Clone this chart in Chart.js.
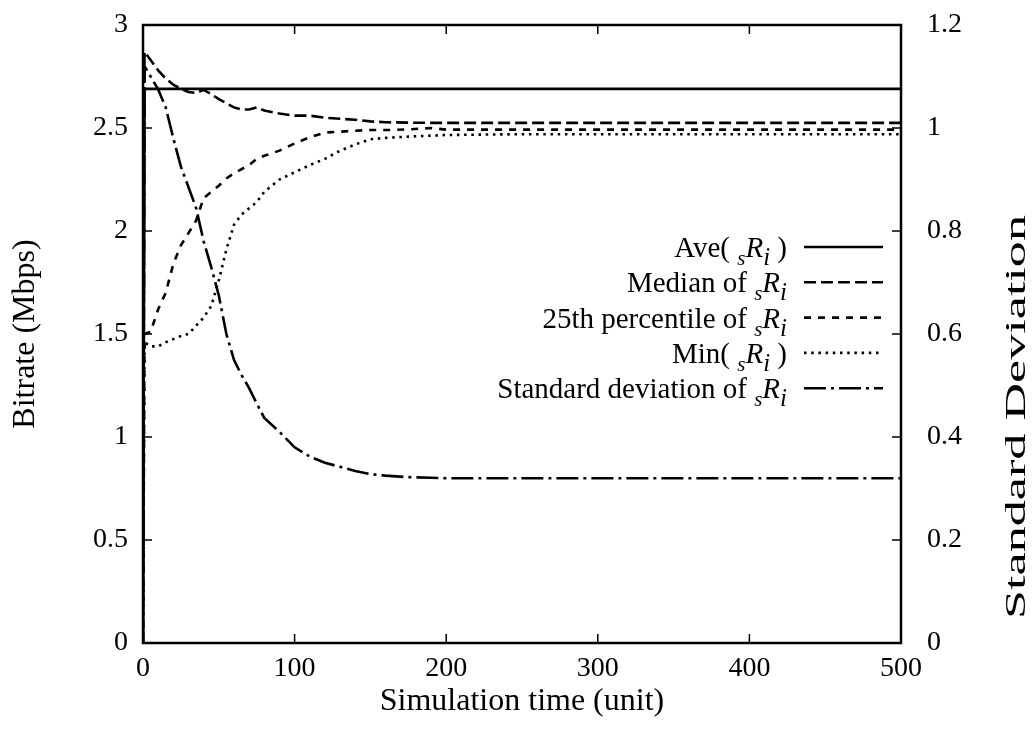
<!DOCTYPE html>
<html lang="en">
<head>
<meta charset="UTF-8">
<title>Bitrate over simulation time</title>
<script src="https://cdn.jsdelivr.net/npm/chart.js"></script>
<style>
  body { margin: 0; background: #fff; }
  #chart { display: block; }
</style>
</head>
<body>
<canvas id="chart" width="1036" height="729"></canvas>
<script>
  // simulation time (unit)
  const times = [0, 1, 5, 10, 15, 20, 25, 30, 35, 40, 45, 50, 55, 60, 65, 70, 75, 80, 90, 100,
                 110, 120, 130, 140, 150, 160, 175, 190, 200, 250, 300, 400, 500];
  // bitrate series (Mbps), left axis
  const aveRate = [0, 2.69, 2.69, 2.69, 2.69, 2.69, 2.69, 2.69, 2.69, 2.69, 2.69, 2.69, 2.69, 2.69, 2.69, 2.69, 2.69,
                   2.69, 2.69, 2.69, 2.69, 2.69, 2.69, 2.69, 2.69, 2.69, 2.69, 2.69, 2.69, 2.69, 2.69, 2.69, 2.69];
  const medianRate = [0, 2.87, 2.83, 2.78, 2.74, 2.71, 2.69, 2.675, 2.67, 2.685, 2.665, 2.64, 2.62, 2.60, 2.59, 2.59, 2.60,
                      2.585, 2.57, 2.56, 2.56, 2.55, 2.545, 2.54, 2.532, 2.528, 2.526, 2.525, 2.525, 2.525, 2.525, 2.525, 2.525];
  const p25Rate = [0, 1.50, 1.51, 1.62, 1.70, 1.84, 1.93, 1.99, 2.05, 2.16, 2.19, 2.22, 2.255, 2.28, 2.30, 2.32, 2.35,
                   2.365, 2.39, 2.425, 2.455, 2.478, 2.482, 2.487, 2.49, 2.49, 2.493, 2.50, 2.492, 2.492, 2.492, 2.492, 2.492];
  const minRate = [0, 1.46, 1.44, 1.44, 1.46, 1.475, 1.49, 1.50, 1.54, 1.58, 1.635, 1.76, 1.91, 2.03, 2.08, 2.11, 2.14,
                   2.19, 2.25, 2.285, 2.32, 2.35, 2.39, 2.42, 2.445, 2.452, 2.458, 2.463, 2.466, 2.47, 2.47, 2.47, 2.47];
  // standard deviation, right axis
  const stdDev = [0, 1.12, 1.10, 1.075, 1.04, 0.98, 0.925, 0.885, 0.845, 0.78, 0.73, 0.675, 0.60, 0.55, 0.52, 0.495, 0.465,
                  0.437, 0.41, 0.38, 0.362, 0.35, 0.342, 0.334, 0.328, 0.325, 0.322, 0.321, 0.32, 0.32, 0.32, 0.32, 0.32];

  // legend text: head + " sRi" + tail
  const labelHeads = ["Ave(", "Median of", "25th percentile of", "Min(", "Standard deviation of"];
  const labelTails = [" )", "", "", " )", ""];

  const serif = '"Liberation Serif", "Times New Roman", serif';
  const pts = vals => times.map((t, i) => ({ x: t, y: vals[i] }));
  const plainNum = v => String(Number(v.toFixed(2)));

  function line(idx, vals, dash, axis) {
    return {
      label: labelHeads[idx] + " sRi" + labelTails[idx],
      data: pts(vals),
      yAxisID: axis,
      borderColor: "#000",
      borderWidth: 2.6,
      borderDash: dash,
      pointRadius: 0,
      tension: 0,
      fill: false
    };
  }

  // fixed box sizes, no label overflow padding
  function fixBox(w, h) {
    return s => {
      if (w) s.width = w;
      if (h) s.height = h;
      s.paddingTop = 0; s.paddingBottom = 0; s.paddingLeft = 0; s.paddingRight = 0;
    };
  }

  // frame, inward ticks, legend and right axis title
  const gnuplotLook = {
    id: "gnuplotLook",
    afterDraw(chart) {
      const ctx = chart.ctx;
      const a = chart.chartArea;
      const { x, y, y2 } = chart.scales;
      ctx.save();
      ctx.strokeStyle = "#000";
      ctx.lineWidth = 1.5;
      ctx.beginPath();
      x.ticks.forEach(t => {
        const px = x.getPixelForValue(t.value);
        ctx.moveTo(px, a.bottom); ctx.lineTo(px, a.bottom - 9);
        ctx.moveTo(px, a.top); ctx.lineTo(px, a.top + 9);
      });
      y.ticks.forEach(t => {
        const py = y.getPixelForValue(t.value);
        ctx.moveTo(a.left, py); ctx.lineTo(a.left + 9, py);
      });
      y2.ticks.forEach(t => {
        const py = y2.getPixelForValue(t.value);
        ctx.moveTo(a.right, py); ctx.lineTo(a.right - 9, py);
      });
      ctx.stroke();

      ctx.lineWidth = 2.5;
      ctx.strokeRect(a.left, a.top, a.right - a.left, a.bottom - a.top);

      // legend
      const textRight = 787, lineL = 804, lineR = 883, rowTop = 247, rowStep = 35.3;
      chart.data.datasets.forEach((ds, i) => {
        const ry = rowTop + i * rowStep;
        ctx.setLineDash(ds.borderDash || []);
        ctx.lineWidth = ds.borderWidth;
        ctx.beginPath();
        ctx.moveTo(lineL, ry); ctx.lineTo(lineR, ry);
        ctx.stroke();
        ctx.setLineDash([]);

        const parts = [
          { t: labelHeads[i] + " ", f: "29px " + serif, dy: 0 },
          { t: "s", f: "italic 21px " + serif, dy: 8 },
          { t: "R", f: "italic 29px " + serif, dy: 0 },
          { t: "i", f: "italic 25px " + serif, dy: 8 },
          { t: labelTails[i], f: "29px " + serif, dy: 0 }
        ];
        let w = 0;
        parts.forEach(p => { ctx.font = p.f; p.w = ctx.measureText(p.t).width; w += p.w; });
        let tx = textRight - w;
        ctx.fillStyle = "#000";
        ctx.textBaseline = "alphabetic";
        ctx.textAlign = "left";
        parts.forEach(p => {
          ctx.font = p.f;
          ctx.fillText(p.t, tx, ry + 10 + p.dy);
          tx += p.w;
        });
      });

      // right axis title (drawn stretched like the original)
      ctx.font = "30px " + serif;
      const label = "Standard Deviation";
      const tw = ctx.measureText(label).width;
      ctx.translate(1025, 417);
      ctx.rotate(-Math.PI / 2);
      ctx.scale(404 / tw, 1);
      ctx.textAlign = "center";
      ctx.textBaseline = "alphabetic";
      ctx.fillText(label, 0, 0);
      ctx.restore();
    }
  };

  const tickFont = { family: serif, size: 28 };
  const titleFont = { family: serif, size: 32 };

  new Chart(document.getElementById("chart"), {
    type: "line",
    data: {
      datasets: [
        line(0, aveRate, [], "y"),
        line(1, medianRate, [12, 5], "y"),
        line(2, p25Rate, [7, 7], "y"),
        line(3, minRate, [2.5, 4.7], "y"),
        line(4, stdDev, [22, 5, 3, 5], "y2")
      ]
    },
    options: {
      responsive: false,
      animation: false,
      devicePixelRatio: 1,
      layout: { autoPadding: false, padding: { top: 25, left: 0, right: 0, bottom: 0 } },
      plugins: { legend: { display: false }, tooltip: { enabled: false } },
      scales: {
        x: {
          type: "linear", min: 0, max: 500,
          grid: { display: false }, border: { display: false },
          ticks: { stepSize: 100, font: tickFont, color: "#000", padding: 1, maxRotation: 0 },
          title: { display: true, text: "Simulation time (unit)", font: titleFont, color: "#000", padding: { top: 0, bottom: 8 } },
          afterFit: fixBox(0, 86)
        },
        y: {
          position: "left", min: 0, max: 3,
          grid: { display: false }, border: { display: false },
          ticks: { stepSize: 0.5, font: tickFont, color: "#000", padding: 7, callback: plainNum },
          title: { display: true, text: "Bitrate (Mbps)", font: titleFont, color: "#000", padding: { top: 6, bottom: 0 } },
          afterFit: fixBox(143, 0)
        },
        y2: {
          position: "right", min: 0, max: 1.2,
          grid: { display: false }, border: { display: false },
          ticks: { stepSize: 0.2, font: tickFont, color: "#000", padding: 18, callback: plainNum },
          afterFit: fixBox(135, 0)
        }
      }
    },
    plugins: [gnuplotLook]
  });
</script>
</body>
</html>
